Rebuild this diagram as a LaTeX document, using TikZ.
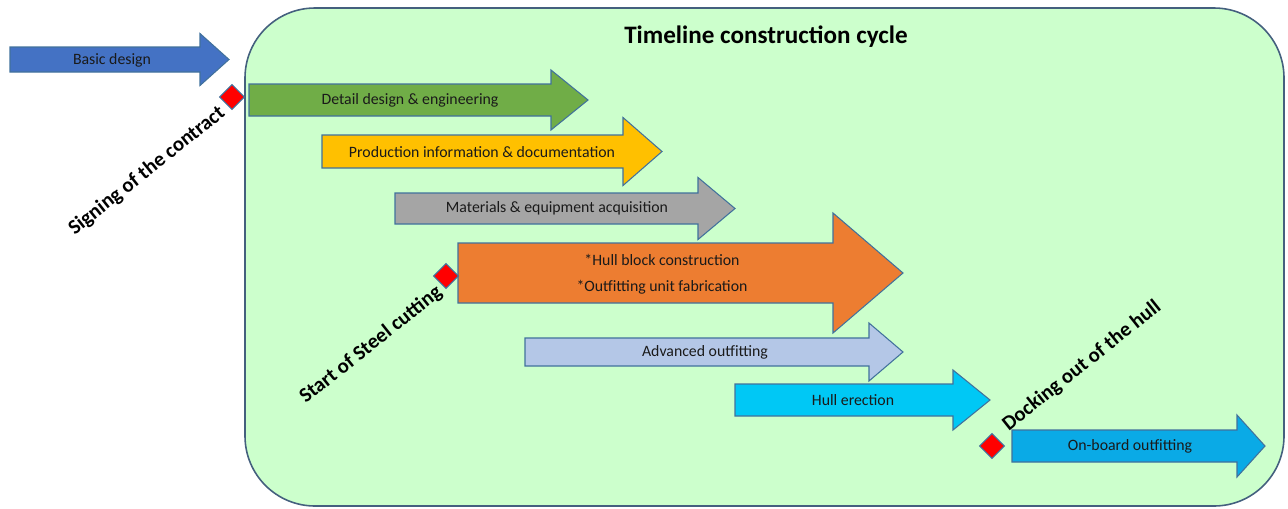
\documentclass[tikz,border=0pt]{standalone}
\usepackage{fontspec}
\setmainfont{Carlito}
\usetikzlibrary{shapes.geometric}

\definecolor{panelfill}{HTML}{CCFFCC}
\definecolor{paneledge}{HTML}{44607E}
\definecolor{arrowedge}{HTML}{41719C}
\definecolor{cBasic}{HTML}{4472C4}
\definecolor{cDetail}{HTML}{70AD47}
\definecolor{cProd}{HTML}{FFC000}
\definecolor{cMat}{HTML}{A5A5A5}
\definecolor{cHull}{HTML}{ED7D31}
\definecolor{cAdv}{HTML}{B4C7E7}
\definecolor{cErect}{HTML}{00C8F5}
\definecolor{cBoard}{HTML}{0AAAE6}
\definecolor{txt}{HTML}{1A1A1A}

% block arrow: fill, start x, head base x, tip x, shaft top y, shaft bottom y, head half height
\newcommand{\blockarrow}[7]{%
  \draw[arrowline, fill=#1]
    (#2,#5) -- (#3,#5) -- (#3,{(#5+#6)/2-#7}) -- (#4,{(#5+#6)/2})
    -- (#3,{(#5+#6)/2+#7}) -- (#3,#6) -- (#2,#6) -- cycle;%
}

\begin{document}
\begin{tikzpicture}[x=0.02cm, y=-0.02cm,
  arrowline/.style={draw=arrowedge, line width=0.6pt, line join=miter},
  steplabel/.style={font=\fontsize{9}{10.8}\selectfont, text=txt, inner sep=0pt, align=center},
  milestone/.style={diamond, fill=red, draw=arrowedge, line width=0.6pt, minimum size=0.5cm, inner sep=0pt},
  eventlabel/.style={font=\bfseries\fontsize{11.8}{13}\selectfont, text=black, rotate=38.5, inner sep=0pt}]

\useasboundingbox (0,0) rectangle (1288,508);

% panel holding the construction cycle
\draw[fill=panelfill, draw=paneledge, line width=0.9pt, rounded corners=1.4cm]
  (245,8) rectangle (1284,506);
\node[font=\bfseries\fontsize{14.3}{16}\selectfont, text=black] (title) at (766,37) {Timeline construction cycle};

% phases
\blockarrow{cBasic}{10}{200}{229}{47}{72}{26}
\node[steplabel] (basic) at (112,60) {Basic design};

\blockarrow{cDetail}{249}{551}{588}{84}{116}{30}
\node[steplabel] (detail) at (410,100) {Detail design \& engineering};

\blockarrow{cProd}{322}{623}{662}{135}{168}{34}
\node[steplabel] (prod) at (482,152) {Production information \& documentation};

\blockarrow{cMat}{395}{698}{735}{193}{224}{31}
\node[steplabel] (mat) at (557,208) {Materials \& equipment acquisition};

\blockarrow{cHull}{458}{833}{903}{243}{303}{60}
\node[steplabel] (hull1) at (662,260) {*Hull block construction};
\node[steplabel] (hull2) at (662,287) {*Outfitting unit fabrication};

\blockarrow{cAdv}{525}{869}{903}{338}{366}{29}
\node[steplabel] (adv) at (705,352) {Advanced outfitting};

\blockarrow{cErect}{735}{953}{990}{384}{416}{30}
\node[steplabel] (erect) at (853,400) {Hull erection};

\blockarrow{cBoard}{1012}{1237}{1265}{430}{462}{31}
\node[steplabel] (board) at (1130,446) {On-board outfitting};

% milestones
\node[milestone] (m1) at (232,97) {};
\node[milestone] (m2) at (446,276) {};
\node[milestone] (m3) at (992,446) {};

\node[eventlabel] (l1) at (147,171) {Signing of the contract};
\node[eventlabel] (l2) at (371,345) {Start of Steel cutting};
\node[eventlabel] (l3) at (1082,366) {Docking out of the hull};

\end{tikzpicture}
\end{document}
